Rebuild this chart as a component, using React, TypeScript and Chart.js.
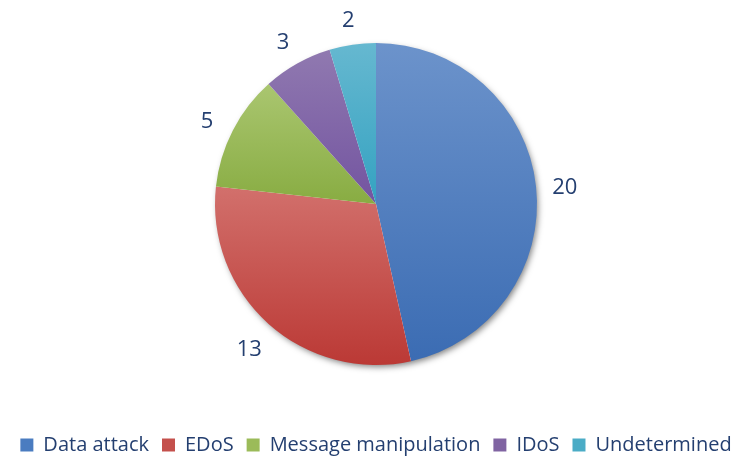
import React, { useEffect, useRef } from 'react';
import { Chart, registerables } from 'chart.js';

Chart.register(...registerables);

const categories = ['Data attack', 'EDoS', 'Message manipulation', 'IDoS', 'Undetermined'];
const counts = [20, 13, 5, 3, 2];
const topColors = ['#6C93CB', '#D2706C', '#AAC670', '#9079B0', '#66B8D0'];
const bottomColors = ['#3B6CB3', '#BB3935', '#88AC42', '#7354A0', '#34A2C1'];
const legendColors = ['#4A7CC0', '#C4504C', '#9BBB59', '#8064A2', '#4BACC6'];

const TEXT_COLOR = '#243F70';
const FONT_FAMILY = '"Open Sans", "Noto Sans", sans-serif';
const LEGEND_FONT = 20;
const LEGEND_PAD = 13;
const LABEL_FONT = 22;

const PIE_CX = 376;
const PIE_CY = 204;
const PIE_R = 161;
const LABEL_R = 190;
const LABEL_DY = 3;
const LEGEND_MID_Y = 445;

const total = counts.reduce((a, b) => a + b, 0);

function sliceGradient(ctx: any) {
  const chart = ctx.chart;
  const area = chart.chartArea;
  const i = ctx.dataIndex;
  if (i === undefined) return legendColors[0];
  if (!area) return legendColors[i];
  const cx = (area.left + area.right) / 2;
  const cy = (area.top + area.bottom) / 2;
  const r = Math.min(area.width, area.height) / 2;
  let start = 0;
  for (let j = 0; j < i; j++) start += counts[j];
  const a0 = (start / total) * Math.PI * 2 - Math.PI / 2;
  const a1 = ((start + counts[i]) / total) * Math.PI * 2 - Math.PI / 2;
  let ymin = cy;
  let ymax = cy;
  for (let k = 0; k <= 90; k++) {
    const a = a0 + ((a1 - a0) * k) / 90;
    const y = cy + r * Math.sin(a);
    if (y < ymin) ymin = y;
    if (y > ymax) ymax = y;
  }
  const g = chart.ctx.createLinearGradient(0, ymin, 0, ymax);
  g.addColorStop(0, topColors[i]);
  g.addColorStop(1, bottomColors[i]);
  return g;
}

const placementPlugin = {
  id: 'placement',
  afterLayout(chart: any) {
    chart.chartArea = {
      left: PIE_CX - PIE_R,
      top: PIE_CY - PIE_R,
      right: PIE_CX + PIE_R,
      bottom: PIE_CY + PIE_R,
      width: PIE_R * 2,
      height: PIE_R * 2,
    };
    const L = chart.legend;
    if (L) {
      const itemH = LEGEND_FONT;
      const dy = LEGEND_MID_Y - (L.top + LEGEND_PAD + itemH / 2);
      L.top += dy;
      L.bottom += dy;
    }
  },
};

const shadowPlugin = {
  id: 'pieShadow',
  beforeDatasetsDraw(chart: any) {
    const meta = chart.getDatasetMeta(0);
    const arc = meta.data[0];
    if (!arc) return;
    const ctx = chart.ctx;
    ctx.save();
    ctx.shadowColor = 'rgba(0,0,0,0.5)';
    ctx.shadowBlur = 6;
    ctx.shadowOffsetX = 2;
    ctx.shadowOffsetY = 3;
    ctx.beginPath();
    ctx.arc(arc.x, arc.y, arc.outerRadius - 1, 0, Math.PI * 2);
    ctx.fillStyle = '#ffffff';
    ctx.fill();
    ctx.restore();
  },
};

const valueLabelPlugin = {
  id: 'valueLabels',
  afterDatasetsDraw(chart: any) {
    const meta = chart.getDatasetMeta(0);
    const ctx = chart.ctx;
    ctx.save();
    ctx.font = `${LABEL_FONT}px ${FONT_FAMILY}`;
    ctx.fillStyle = TEXT_COLOR;
    ctx.textAlign = 'center';
    ctx.textBaseline = 'alphabetic';
    const capHalf = LABEL_FONT * 0.714 / 2;
    meta.data.forEach((arc: any, i: number) => {
      const mid = (arc.startAngle + arc.endAngle) / 2;
      const x = arc.x + Math.cos(mid) * LABEL_R;
      const y = arc.y + Math.sin(mid) * LABEL_R + LABEL_DY;
      ctx.fillText(String(counts[i]), x, y + capHalf);
    });
    ctx.restore();
  },
};

export default function App() {
  const canvasRef = useRef<HTMLCanvasElement | null>(null);

  useEffect(() => {
    document.body.style.margin = '0';
    const canvas = canvasRef.current;
    if (!canvas) return;
    const chart = new Chart(canvas, {
      type: 'pie',
      data: {
        labels: categories,
        datasets: [
          {
            data: counts,
            backgroundColor: sliceGradient as any,
            borderWidth: 0,
          },
        ],
      },
      options: {
        responsive: false,
        animation: false,
        events: [],
        layout: { padding: 0 },
        plugins: {
          tooltip: { enabled: false },
          legend: {
            position: 'bottom',
            labels: {
              boxWidth: 13,
              boxHeight: 13,
              padding: LEGEND_PAD,
              color: TEXT_COLOR,
              font: { family: FONT_FAMILY, size: LEGEND_FONT },
              generateLabels: () =>
                categories.map((c, i) => ({
                  text: c,
                  fillStyle: legendColors[i],
                  strokeStyle: legendColors[i],
                  lineWidth: 0,
                  hidden: false,
                  index: i,
                  fontColor: TEXT_COLOR,
                })),
            },
          },
        },
      },
      plugins: [placementPlugin, shadowPlugin, valueLabelPlugin],
    });
    return () => chart.destroy();
  }, []);

  return (
    <div style={{ width: 752, height: 456, background: '#ffffff' }}>
      <canvas ref={canvasRef} width={752} height={456} style={{ display: 'block' }} />
    </div>
  );
}
